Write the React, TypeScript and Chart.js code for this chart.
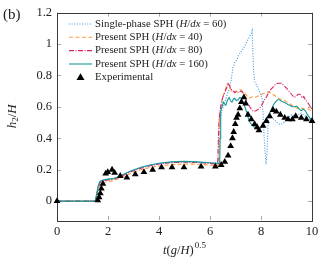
import React, { useEffect, useRef } from "react";
import { Chart, registerables } from "chart.js";

Chart.register(...registerables);

type P = [number, number];

const xTicks = [0, 2, 4, 6, 8, 10];
const yTicks = [0, 0.2, 0.4, 0.6, 0.8, 1, 1.2];

const singlePhase: P[] = [
  [0, 0], [1.5, 0], [1.56, 0.05], [1.62, 0.1], [1.69, 0.125], [1.8, 0.133], [2.0, 0.138], [2.2, 0.141],
  [2.4, 0.153], [2.6, 0.168], [2.8, 0.183], [3.0, 0.196], [3.3, 0.213], [3.6, 0.226], [4.0, 0.239],
  [4.5, 0.248], [5.0, 0.251], [5.5, 0.248], [6.0, 0.242], [6.36, 0.238], [6.38, 0.4], [6.41, 0.52],
  [6.46, 0.57], [6.52, 0.6], [6.6, 0.64], [6.68, 0.68], [6.77, 0.72], [6.84, 0.78], [6.9, 0.85],
  [6.97, 0.88], [7.05, 0.9], [7.13, 0.93], [7.22, 0.95], [7.3, 0.97], [7.38, 0.99], [7.46, 1.02],
  [7.53, 1.04], [7.6, 1.06], [7.65, 1.085], [7.68, 0.96], [7.71, 0.83], [7.75, 0.76], [7.82, 0.74],
  [7.9, 0.71], [7.97, 0.69], [8.04, 0.65], [8.08, 0.56], [8.11, 0.45], [8.15, 0.33], [8.2, 0.235],
  [8.23, 0.3], [8.26, 0.42], [8.29, 0.52], [8.35, 0.545], [8.42, 0.535], [8.5, 0.52], [8.6, 0.505],
  [8.7, 0.49], [8.8, 0.49], [8.9, 0.5], [9.0, 0.515], [9.1, 0.535], [9.19, 0.55], [9.27, 0.545],
  [9.35, 0.53], [9.43, 0.54], [9.5, 0.555], [9.58, 0.56], [9.66, 0.55], [9.74, 0.54], [9.82, 0.53],
  [9.9, 0.52], [10, 0.5],
];

const present40: P[] = [
  [0, 0], [1.5, 0], [1.57, 0.04], [1.64, 0.09], [1.72, 0.11], [1.85, 0.12], [2.0, 0.125], [2.2, 0.13],
  [2.4, 0.142], [2.6, 0.155], [2.8, 0.17], [3.0, 0.183], [3.3, 0.2], [3.6, 0.212], [4.0, 0.224],
  [4.5, 0.232], [5.0, 0.236], [5.5, 0.235], [6.0, 0.23], [6.33, 0.225], [6.35, 0.4], [6.38, 0.55],
  [6.44, 0.62], [6.5, 0.66], [6.56, 0.69], [6.62, 0.72], [6.68, 0.75], [6.73, 0.745], [6.78, 0.73],
  [6.84, 0.7], [6.9, 0.69], [6.96, 0.695], [7.03, 0.7], [7.1, 0.705], [7.17, 0.71], [7.24, 0.705],
  [7.3, 0.695], [7.37, 0.685], [7.45, 0.67], [7.53, 0.655], [7.6, 0.66], [7.68, 0.665], [7.76, 0.66],
  [7.84, 0.665], [7.93, 0.672], [8.02, 0.678], [8.1, 0.685], [8.2, 0.69], [8.3, 0.695], [8.38, 0.69],
  [8.46, 0.68], [8.55, 0.67], [8.64, 0.66], [8.73, 0.65], [8.83, 0.645], [8.93, 0.64], [9.02, 0.63],
  [9.12, 0.62], [9.22, 0.61], [9.32, 0.6], [9.42, 0.59], [9.52, 0.59], [9.62, 0.59], [9.72, 0.585],
  [9.82, 0.59], [9.91, 0.58], [10, 0.575],
];

const present80: P[] = [
  [0, 0], [1.5, 0], [1.56, 0.04], [1.63, 0.1], [1.7, 0.12], [1.8, 0.13], [2.0, 0.135], [2.2, 0.138],
  [2.4, 0.15], [2.6, 0.165], [2.8, 0.18], [3.0, 0.193], [3.3, 0.21], [3.6, 0.223], [4.0, 0.236],
  [4.5, 0.245], [5.0, 0.248], [5.5, 0.246], [6.0, 0.24], [6.3, 0.235], [6.32, 0.35], [6.35, 0.5],
  [6.4, 0.58], [6.45, 0.63], [6.5, 0.66], [6.55, 0.68], [6.6, 0.7], [6.65, 0.72], [6.7, 0.75],
  [6.75, 0.74], [6.8, 0.72], [6.86, 0.705], [6.92, 0.7], [6.98, 0.69], [7.05, 0.7], [7.12, 0.69],
  [7.2, 0.7], [7.27, 0.695], [7.33, 0.68], [7.4, 0.65], [7.48, 0.62], [7.56, 0.6], [7.64, 0.58],
  [7.72, 0.57], [7.8, 0.575], [7.9, 0.585], [7.98, 0.6], [8.06, 0.62], [8.14, 0.645], [8.22, 0.665],
  [8.3, 0.69], [8.38, 0.71], [8.47, 0.725], [8.55, 0.74], [8.63, 0.748], [8.72, 0.75], [8.8, 0.75],
  [8.9, 0.735], [8.99, 0.72], [9.07, 0.705], [9.15, 0.69], [9.22, 0.675], [9.3, 0.66], [9.37, 0.665],
  [9.45, 0.68], [9.52, 0.68], [9.58, 0.67], [9.63, 0.655], [9.68, 0.665], [9.74, 0.645], [9.82, 0.63],
  [9.9, 0.61], [10, 0.585],
];

const present160: P[] = [
  [0, 0], [1.5, 0], [1.56, 0.05], [1.62, 0.1], [1.68, 0.125], [1.8, 0.135], [2.0, 0.14], [2.2, 0.143],
  [2.4, 0.155], [2.6, 0.17], [2.8, 0.185], [3.0, 0.198], [3.3, 0.215], [3.6, 0.228], [4.0, 0.241],
  [4.5, 0.25], [5.0, 0.253], [5.5, 0.25], [6.0, 0.244], [6.38, 0.24], [6.4, 0.4], [6.42, 0.57],
  [6.47, 0.6], [6.52, 0.63], [6.56, 0.62], [6.62, 0.61], [6.68, 0.64], [6.75, 0.66], [6.8, 0.64],
  [6.86, 0.63], [6.92, 0.65], [6.97, 0.655], [7.03, 0.64], [7.1, 0.645], [7.17, 0.66], [7.23, 0.655],
  [7.3, 0.63], [7.37, 0.6], [7.43, 0.57], [7.5, 0.53], [7.57, 0.5], [7.66, 0.48], [7.75, 0.47],
  [7.85, 0.465], [7.95, 0.46], [8.05, 0.48], [8.14, 0.5], [8.22, 0.53], [8.31, 0.55], [8.4, 0.58],
  [8.48, 0.61], [8.56, 0.63], [8.65, 0.645], [8.73, 0.645], [8.8, 0.635], [8.88, 0.63], [8.96, 0.625],
  [9.05, 0.615], [9.13, 0.61], [9.22, 0.6], [9.32, 0.6], [9.4, 0.605], [9.5, 0.585], [9.58, 0.575],
  [9.66, 0.585], [9.74, 0.575], [9.82, 0.55], [9.91, 0.53], [10, 0.51],
];

const experimental: P[] = [
  [0, 0], [1.6, 0.005], [1.65, 0.025], [1.7, 0.05], [1.74, 0.08], [1.8, 0.11], [1.91, 0.175],
  [1.99, 0.185], [2.16, 0.2], [2.26, 0.18], [2.48, 0.16], [2.74, 0.15], [3.07, 0.17], [3.41, 0.185],
  [3.75, 0.2], [4.1, 0.215], [4.51, 0.215], [4.98, 0.215], [5.65, 0.22], [6.21, 0.22], [6.44, 0.23],
  [6.58, 0.25], [6.71, 0.29], [6.81, 0.35], [6.88, 0.4], [6.93, 0.44], [6.99, 0.49], [7.04, 0.53],
  [7.1, 0.55], [7.17, 0.59], [7.23, 0.63], [7.33, 0.66], [7.4, 0.62], [7.49, 0.55], [7.62, 0.52],
  [7.75, 0.49], [7.85, 0.47], [7.92, 0.45], [8.08, 0.48], [8.21, 0.51], [8.34, 0.54], [8.47, 0.58],
  [8.6, 0.57], [8.76, 0.55], [8.93, 0.53], [9.06, 0.52], [9.23, 0.52], [9.36, 0.54], [9.58, 0.53],
  [9.78, 0.52], [10, 0.51],
];

const seriesNames = ["Single-phase SPH", "Present SPH", "Present SPH", "Present SPH", "Experimental"];
const resolutions = ["60", "40", "80", "160", ""];
const xTitle = "t(g/H)";
const xTitleSup = "0.5";
const panelLabel = "(b)";

const SERIF = '"Liberation Serif", "DejaVu Serif", serif';
const COLORS = ["#3d98de", "#ff9a3a", "#d6246a", "#13999a", "#000000"];
const DASHES: number[][] = [[1, 1.6], [4, 2.5], [5, 1.5, 1, 1.5], [], []];

function toXY(arr: P[]) {
  return arr.map(([x, y]) => ({ x, y }));
}

function drawSegs(ctx: CanvasRenderingContext2D, segs: { t: string; i?: boolean }[], x: number, y: number, size: number) {
  let cx = x;
  for (const s of segs) {
    ctx.font = `${s.i ? "italic " : ""}${size}px ${SERIF}`;
    ctx.fillText(s.t, cx, y);
    cx += ctx.measureText(s.t).width;
  }
  return cx;
}

function measureSegs(ctx: CanvasRenderingContext2D, segs: { t: string; i?: boolean; s?: number }[], size: number) {
  let w = 0;
  for (const s of segs) {
    ctx.font = `${s.i ? "italic " : ""}${s.s ?? size}px ${SERIF}`;
    w += ctx.measureText(s.t).width;
  }
  return w;
}

const decorPlugin = {
  id: "decor",
  beforeDatasetsDraw(chart: any) {
    const { ctx, chartArea: a, scales } = chart;
    ctx.save();
    ctx.strokeStyle = "#a8a8a8";
    ctx.lineWidth = 1;
    ctx.beginPath();
    for (const v of xTicks) {
      const px = Math.round(scales.x.getPixelForValue(v)) + 0.5;
      ctx.moveTo(px, a.bottom);
      ctx.lineTo(px, a.bottom - 4);
      ctx.moveTo(px, a.top);
      ctx.lineTo(px, a.top + 4);
    }
    for (const v of yTicks) {
      const py = Math.round(scales.y.getPixelForValue(v)) + 0.5;
      ctx.moveTo(a.left, py);
      ctx.lineTo(a.left + 4, py);
      ctx.moveTo(a.right, py);
      ctx.lineTo(a.right - 4, py);
    }
    ctx.stroke();
    ctx.strokeStyle = "#3a3a3a";
    ctx.strokeRect(Math.round(a.left) + 0.5, Math.round(a.top) + 0.5, Math.round(a.right - a.left), Math.round(a.bottom - a.top));
    ctx.restore();
  },
  afterDraw(chart: any) {
    const { ctx, chartArea: a } = chart;
    ctx.save();
    ctx.fillStyle = "#222";
    ctx.textBaseline = "middle";
    ctx.textAlign = "left";

    // panel label
    ctx.font = `15px ${SERIF}`;
    ctx.fillText(panelLabel, 3, 15);

    // legend
    const rowY = [24, 37.3, 50.6, 64, 77.3];
    for (let i = 0; i < 5; i++) {
      const y = rowY[i];
      if (i < 4) {
        ctx.save();
        ctx.strokeStyle = COLORS[i];
        ctx.lineWidth = 1.1;
        ctx.setLineDash(DASHES[i]);
        ctx.beginPath();
        ctx.moveTo(69, y);
        ctx.lineTo(92, y);
        ctx.stroke();
        ctx.restore();
        drawSegs(
          ctx,
          [
            { t: seriesNames[i] + " (" },
            { t: "H", i: true },
            { t: "/" },
            { t: "dx", i: true },
            { t: " = " + resolutions[i] + ")" },
          ],
          95,
          y,
          10.8
        );
      } else {
        ctx.fillStyle = "#000";
        ctx.beginPath();
        ctx.moveTo(80.5, y - 4);
        ctx.lineTo(84.5, y + 2.8);
        ctx.lineTo(76.5, y + 2.8);
        ctx.closePath();
        ctx.fill();
        ctx.fillStyle = "#222";
        drawSegs(ctx, [{ t: seriesNames[i] }], 95, y, 10.8);
      }
    }

    // x title
    const main = 12.5;
    const xs = [
      { t: "t", i: true },
      { t: "(" },
      { t: "g", i: true },
      { t: "/" },
      { t: "H", i: true },
      { t: ")" },
    ];
    const wMain = measureSegs(ctx, xs, main);
    ctx.font = `9px ${SERIF}`;
    const wSup = ctx.measureText(xTitleSup).width;
    const cx = (a.left + a.right) / 2;
    let x0 = cx - (wMain + wSup + 1) / 2;
    const endX = drawSegs(ctx, xs, x0, 251, main);
    ctx.font = `9px ${SERIF}`;
    ctx.fillText(xTitleSup, endX + 1, 246);

    // y title
    ctx.translate(13, (a.top + a.bottom) / 2);
    ctx.rotate(-Math.PI / 2);
    const ysegs = [
      { t: "h", i: true },
      { t: "2", s: 9 },
      { t: "/" },
      { t: "H", i: true },
    ];
    const wy = measureSegs(ctx, ysegs, 13);
    let yx = -wy / 2;
    for (const s of ysegs) {
      const size = s.s ?? 13;
      ctx.font = `${s.i ? "italic " : ""}${size}px ${SERIF}`;
      ctx.fillText(s.t, yx, s.s ? 3 : 0);
      yx += ctx.measureText(s.t).width;
    }
    ctx.restore();
  },
};

export default function App() {
  const ref = useRef<HTMLCanvasElement | null>(null);
  useEffect(() => {
    if (!ref.current) return;
    const tickFont = { family: SERIF, size: 12.5 };
    const chart = new Chart(ref.current, {
      type: "line",
      data: {
        datasets: [
          {
            label: "Experimental",
            data: toXY(experimental),
            showLine: false,
            pointStyle: "triangle",
            pointRadius: 3.9,
            pointBackgroundColor: "#000",
            pointBorderColor: "#000",
            pointBorderWidth: 0,
            borderColor: "#000",
            order: 0,
            clip: false,
          } as any,
          {
            label: "Present SPH (H/dx = 160)",
            data: toXY(present160),
            borderColor: COLORS[3],
            borderWidth: 1.1,
            pointRadius: 0,
            tension: 0,
            order: 1,
          },
          {
            label: "Present SPH (H/dx = 80)",
            data: toXY(present80),
            borderColor: COLORS[2],
            borderWidth: 1.1,
            borderDash: DASHES[2],
            pointRadius: 0,
            order: 2,
          },
          {
            label: "Present SPH (H/dx = 40)",
            data: toXY(present40),
            borderColor: COLORS[1],
            borderWidth: 1.1,
            borderDash: DASHES[1],
            pointRadius: 0,
            order: 3,
          },
          {
            label: "Single-phase SPH (H/dx = 60)",
            data: toXY(singlePhase),
            borderColor: COLORS[0],
            borderWidth: 1.1,
            borderDash: DASHES[0],
            pointRadius: 0,
            order: 4,
          },
        ],
      },
      options: {
        animation: false,
        responsive: false,
        maintainAspectRatio: false,
        layout: { padding: { left: 0, right: 11, top: 8, bottom: 0 } },
        plugins: { legend: { display: false }, tooltip: { enabled: false } },
        scales: {
          x: {
            type: "linear",
            min: 0,
            max: 10,
            grid: { display: false, drawTicks: false },
            border: { display: false },
            afterBuildTicks: (s: any) => {
              s.ticks = xTicks.map((v) => ({ value: v }));
            },
            afterFit: (s: any) => {
              s.height = 42;
            },
            ticks: {
              padding: 4,
              font: tickFont,
              color: "#222",
              maxRotation: 0,
              autoSkip: false,
              callback: (v: any) => String(v),
            },
          },
          y: {
            type: "linear",
            min: -0.12,
            max: 1.2,
            grid: { display: false, drawTicks: false },
            border: { display: false },
            afterBuildTicks: (s: any) => {
              s.ticks = yTicks.map((v) => ({ value: v }));
            },
            afterFit: (s: any) => {
              s.width = 57;
            },
            ticks: {
              padding: 5,
              font: tickFont,
              color: "#222",
              autoSkip: false,
              callback: (v: any) => String(Math.round(Number(v) * 10) / 10),
            },
          },
        },
      } as any,
      plugins: [decorPlugin],
    });
    return () => chart.destroy();
  }, []);
  return (
    <div style={{ position: "fixed", left: 0, top: 0, width: 323, height: 262, background: "#fff" }}>
      <canvas ref={ref} width={323} height={262} style={{ display: "block" }} />
    </div>
  );
}
